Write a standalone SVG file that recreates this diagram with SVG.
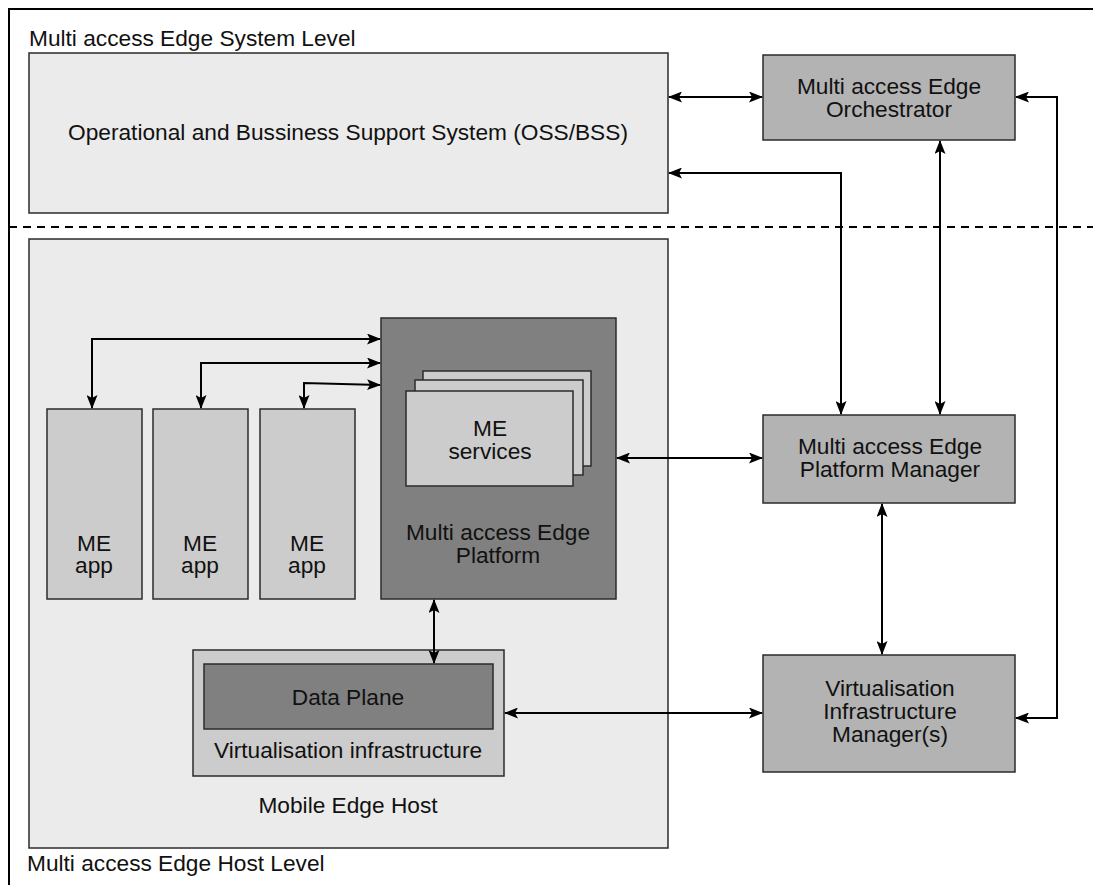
<svg xmlns="http://www.w3.org/2000/svg" width="1093" height="885" viewBox="0 0 1093 885">
  <style>
    text { font-family: "Liberation Sans", Arial, sans-serif; font-size: 22.7px; fill: #111; }
    .c { text-anchor: middle; }
    .box { stroke: #2b2b2b; stroke-width: 1.5; }
    .light { fill: #ebebeb; }
    .mid { fill: #cccccc; }
    .grey { fill: #b3b3b3; }
    .dark { fill: #808080; }
    .wire { fill: none; stroke: #000; stroke-width: 2; }
  </style>
  <defs>
    <marker id="arr" viewBox="0 0 14 11" refX="13" refY="5.5" markerWidth="14" markerHeight="11" markerUnits="userSpaceOnUse" orient="auto-start-reverse">
      <path d="M0,0 L14,5.5 L0,11 L3,5.5 Z" fill="#000"/>
    </marker>
  </defs>

  <rect width="1093" height="885" fill="#fff"/>
  <!-- frame and level separator -->
  <path d="M9,885 V9 H1093" fill="none" stroke="#000" stroke-width="2"/>
  <line x1="9" y1="227" x2="1093" y2="227" stroke="#000" stroke-width="2" stroke-dasharray="8,6"/>
  <text x="29" y="46">Multi access Edge System Level</text>
  <text x="27" y="871">Multi access Edge Host Level</text>

  <g id="oss">
    <rect class="box light" x="29" y="53" width="639" height="160"/>
    <text class="c" x="348" y="140">Operational and Bussiness Support System (OSS/BSS)</text>
  </g>

  <g id="orchestrator">
    <rect class="box grey" x="763" y="55" width="252" height="85"/>
    <text class="c" x="889" y="94">Multi access Edge</text>
    <text class="c" x="889" y="117">Orchestrator</text>
  </g>

  <g id="host">
    <rect class="box light" x="29" y="239" width="639" height="609"/>
    <text class="c" x="348" y="813">Mobile Edge Host</text>
  </g>

  <g id="app1">
    <rect class="box mid" x="47" y="409" width="95" height="190"/>
    <text class="c" x="94" y="551">ME</text>
    <text class="c" x="94" y="573">app</text>
  </g>
  <g id="app2">
    <rect class="box mid" x="153" y="409" width="95" height="190"/>
    <text class="c" x="200" y="551">ME</text>
    <text class="c" x="200" y="573">app</text>
  </g>
  <g id="app3">
    <rect class="box mid" x="260" y="409" width="95" height="190"/>
    <text class="c" x="307" y="551">ME</text>
    <text class="c" x="307" y="573">app</text>
  </g>

  <g id="platform">
    <rect class="box dark" x="381" y="318" width="235" height="281"/>
    <rect class="box mid" x="423" y="371" width="168" height="95"/>
    <rect class="box mid" x="415" y="380" width="168" height="95"/>
    <rect class="box mid" x="406" y="391" width="167" height="95"/>
    <text class="c" x="490" y="436">ME</text>
    <text class="c" x="490" y="459">services</text>
    <text class="c" x="498" y="540">Multi access Edge</text>
    <text class="c" x="498" y="563">Platform</text>
  </g>

  <g id="virtualisation">
    <rect class="box mid" x="193" y="650" width="311" height="126"/>
    <rect class="box dark" x="204" y="664" width="289" height="65"/>
    <text class="c" x="348" y="705">Data Plane</text>
    <text class="c" x="348" y="758">Virtualisation infrastructure</text>
  </g>

  <g id="platform-manager">
    <rect class="box grey" x="763" y="415" width="252" height="88"/>
    <text class="c" x="890" y="454">Multi access Edge</text>
    <text class="c" x="890" y="477">Platform Manager</text>
  </g>

  <g id="vim">
    <rect class="box grey" x="763" y="655" width="252" height="117"/>
    <text class="c" x="890" y="696">Virtualisation</text>
    <text class="c" x="890" y="719">Infrastructure</text>
    <text class="c" x="890" y="742">Manager(s)</text>
  </g>

  <g id="connectors">
    <path class="wire" d="M669,97 H762" marker-start="url(#arr)" marker-end="url(#arr)"/>
    <path class="wire" d="M669,173 H841 V414" marker-start="url(#arr)" marker-end="url(#arr)"/>
    <path class="wire" d="M940,141 V414" marker-start="url(#arr)" marker-end="url(#arr)"/>
    <path class="wire" d="M1016,97 H1057 V718 H1016" marker-start="url(#arr)" marker-end="url(#arr)"/>
    <path class="wire" d="M92,408 V339 H380" marker-start="url(#arr)" marker-end="url(#arr)"/>
    <path class="wire" d="M201,408 V363 H380" marker-start="url(#arr)" marker-end="url(#arr)"/>
    <path class="wire" d="M304,408 V383 L380,385" marker-start="url(#arr)" marker-end="url(#arr)"/>
    <path class="wire" d="M617,458 H762" marker-start="url(#arr)" marker-end="url(#arr)"/>
    <path class="wire" d="M434,600 V663" marker-start="url(#arr)" marker-end="url(#arr)"/>
    <path class="wire" d="M882,504 V654" marker-start="url(#arr)" marker-end="url(#arr)"/>
    <path class="wire" d="M505,713 H762" marker-start="url(#arr)" marker-end="url(#arr)"/>
  </g>
</svg>
